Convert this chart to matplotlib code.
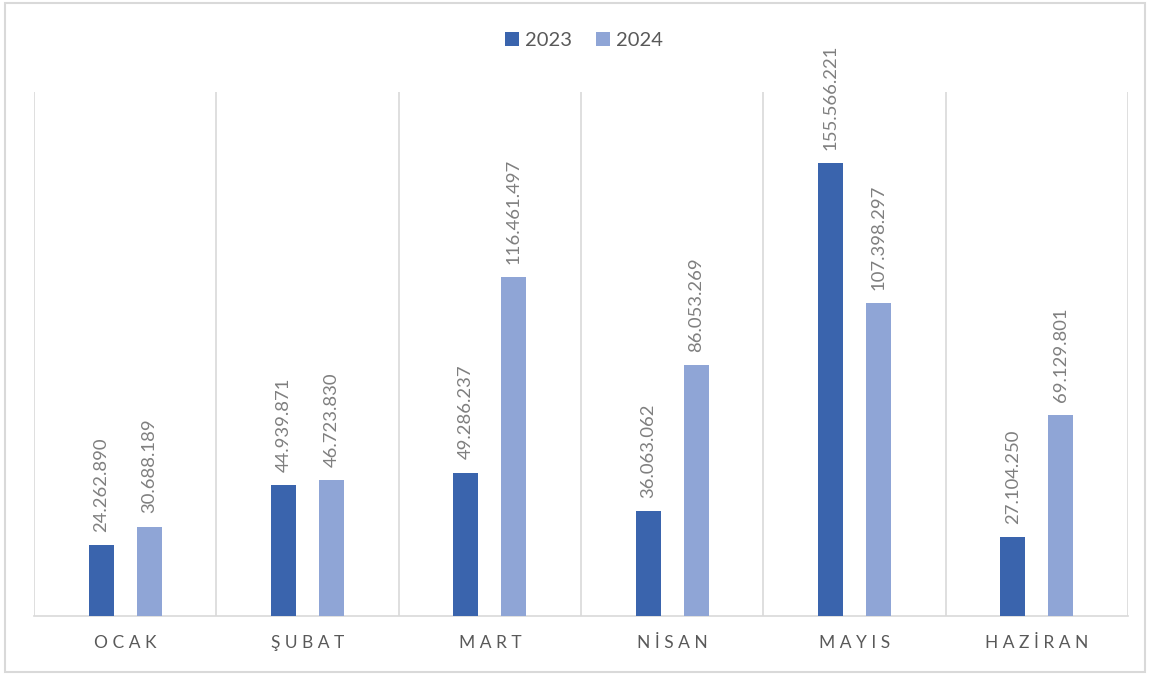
import matplotlib.pyplot as plt
from matplotlib.patches import Rectangle
import numpy as np

plt.rcParams['font.family'] = ['Lato', 'DejaVu Sans']

months = ['OCAK', 'ŞUBAT', 'MART', 'NİSAN', 'MAYIS', 'HAZİRAN']
v2023 = [24262890, 44939871, 49286237, 36063062, 155566221, 27104250]
v2024 = [30688189, 46723830, 116461497, 86053269, 107398297, 69129801]
c2023 = '#3a64ad'
c2024 = '#8fa5d6'


def fmt(v):
    return f'{v:,}'.replace(',', '.')


fig = plt.figure(figsize=(11.5, 6.75), dpi=100)
fig.patches.append(Rectangle((0.004, 0.004), 0.992, 0.992, transform=fig.transFigure,
                             fill=False, edgecolor='#d9d9d9', linewidth=1.5))
ax = fig.add_axes([0.0296, 0.0874, 0.9513, 0.7763])

x = np.arange(len(months))
w = 0.137
off = 0.132
b1 = ax.bar(x - off, v2023, w, color=c2023, label='2023', zorder=3)
b2 = ax.bar(x + off, v2024, w, color=c2024, label='2024', zorder=3)

for bars, vals in ((b1, v2023), (b2, v2024)):
    for r, v in zip(bars, vals):
        ax.annotate(fmt(v), (r.get_x() + r.get_width() / 2, r.get_height()),
                    xytext=(0, 9.5), textcoords='offset points', rotation=90,
                    ha='center', va='bottom', fontsize=13.3, color='#7f7f7f')

ax.set_xlim(-0.5, len(months) - 0.5)
ax.set_ylim(0, 180000000)
ax.set_yticks([])
ax.set_xticks(x)
ax.set_xticklabels([' '.join(m) for m in months], fontsize=12.5, color='#595959')
ax.tick_params(axis='x', length=0, pad=14)
for b in np.arange(-0.5, len(months), 1.0):
    ax.axvline(b, color='#d9d9d9', linewidth=1.2, zorder=1)
for s in ['top', 'left', 'right']:
    ax.spines[s].set_visible(False)
ax.spines['bottom'].set_color('#d9d9d9')
ax.spines['bottom'].set_linewidth(1.2)

fig.legend(loc='center', bbox_to_anchor=(0.508, 0.94), ncol=2, frameon=False,
           fontsize=14.5, handlelength=0.7, handleheight=0.7, handletextpad=0.3,
           columnspacing=1.2, labelcolor='#595959')

fig.savefig('out.png', dpi=100)
